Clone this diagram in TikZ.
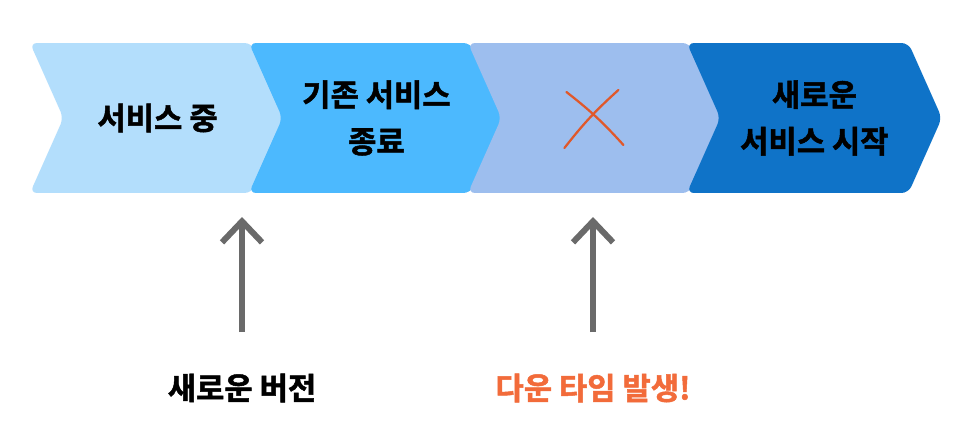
\documentclass[tikz,border=0pt]{standalone}
\usepackage{fontspec}
\newfontfamily\krfont{Noto Sans CJK KR}[BoldFont={Noto Sans CJK KR Bold}, BoldFeatures={FakeBold=1.6}]
\usepackage{tikz}
\usetikzlibrary{shapes.symbols, arrows.meta, positioning}
\definecolor{stageone}{HTML}{B3DEFC}
\definecolor{stagetwo}{HTML}{4CB9FE}
\definecolor{stagethree}{HTML}{9DBEEE}
\definecolor{stagefour}{HTML}{0F73C8}
\definecolor{arrowgray}{HTML}{6A6A6A}
\definecolor{downorange}{HTML}{F26B3A}
\definecolor{crossred}{HTML}{E0582A}
\tikzset{
  stage/.style={
    signal, signal to=east, signal from=west,
    signal pointer angle=132,
    minimum width=5.1cm, minimum height=3cm,
    inner sep=0pt, rounded corners=4pt,
    font=\krfont\bfseries\fontsize{17.5}{26.5}\selectfont,
    align=center, text=black
  },
  note/.style={font=\krfont\bfseries\fontsize{17.5}{26.5}\selectfont, inner sep=2pt},
  uparrow/.style={-{Straight Barb[length=0.42cm, width=0.8cm]}, line width=0.12cm, draw=arrowgray},
  cross/.style={draw=crossred, line width=0.045cm, line cap=round}
}
\begin{document}
\begin{tikzpicture}[x=0.02cm, y=-0.02cm, node distance=4.38cm, on grid]
  \fill[white] (0,0) rectangle (966,436);
  \useasboundingbox (0,0) rectangle (966,436);

  % stages
  \node[stage, fill=stageone] (serving) at (157.5,118) {서비스 중};
  \node[stage, fill=stagetwo, right=of serving] (stopold) {기존 서비스\\종료};
  \node[stage, fill=stagethree, right=of stopold] (gap) {};
  \node[stage, fill=stagefour, right=of gap] (startnew) {새로운\\서비스 시작};

  % the cross in the gap
  \draw[cross] ([shift={(-29,-26)}]gap.center) to[bend left=5] ([shift={(28,27)}]gap.center);
  \draw[cross] ([shift={(23,-28)}]gap.center) to[bend right=5] ([shift={(-31,30)}]gap.center);

  % labels below
  \node[note] (newver) at (242,388) {새로운 버전};
  \node[note, text=downorange] (downtime) at (593,388) {다운 타임 발생!};

  \coordinate (newtip) at (242,217);
  \coordinate (downtip) at (593,217);
  \draw[uparrow, shorten <=1.12cm] (newver.center) -- (newtip);
  \draw[uparrow, shorten <=1.12cm] (downtime.center) -- (downtip);
\end{tikzpicture}
\end{document}
